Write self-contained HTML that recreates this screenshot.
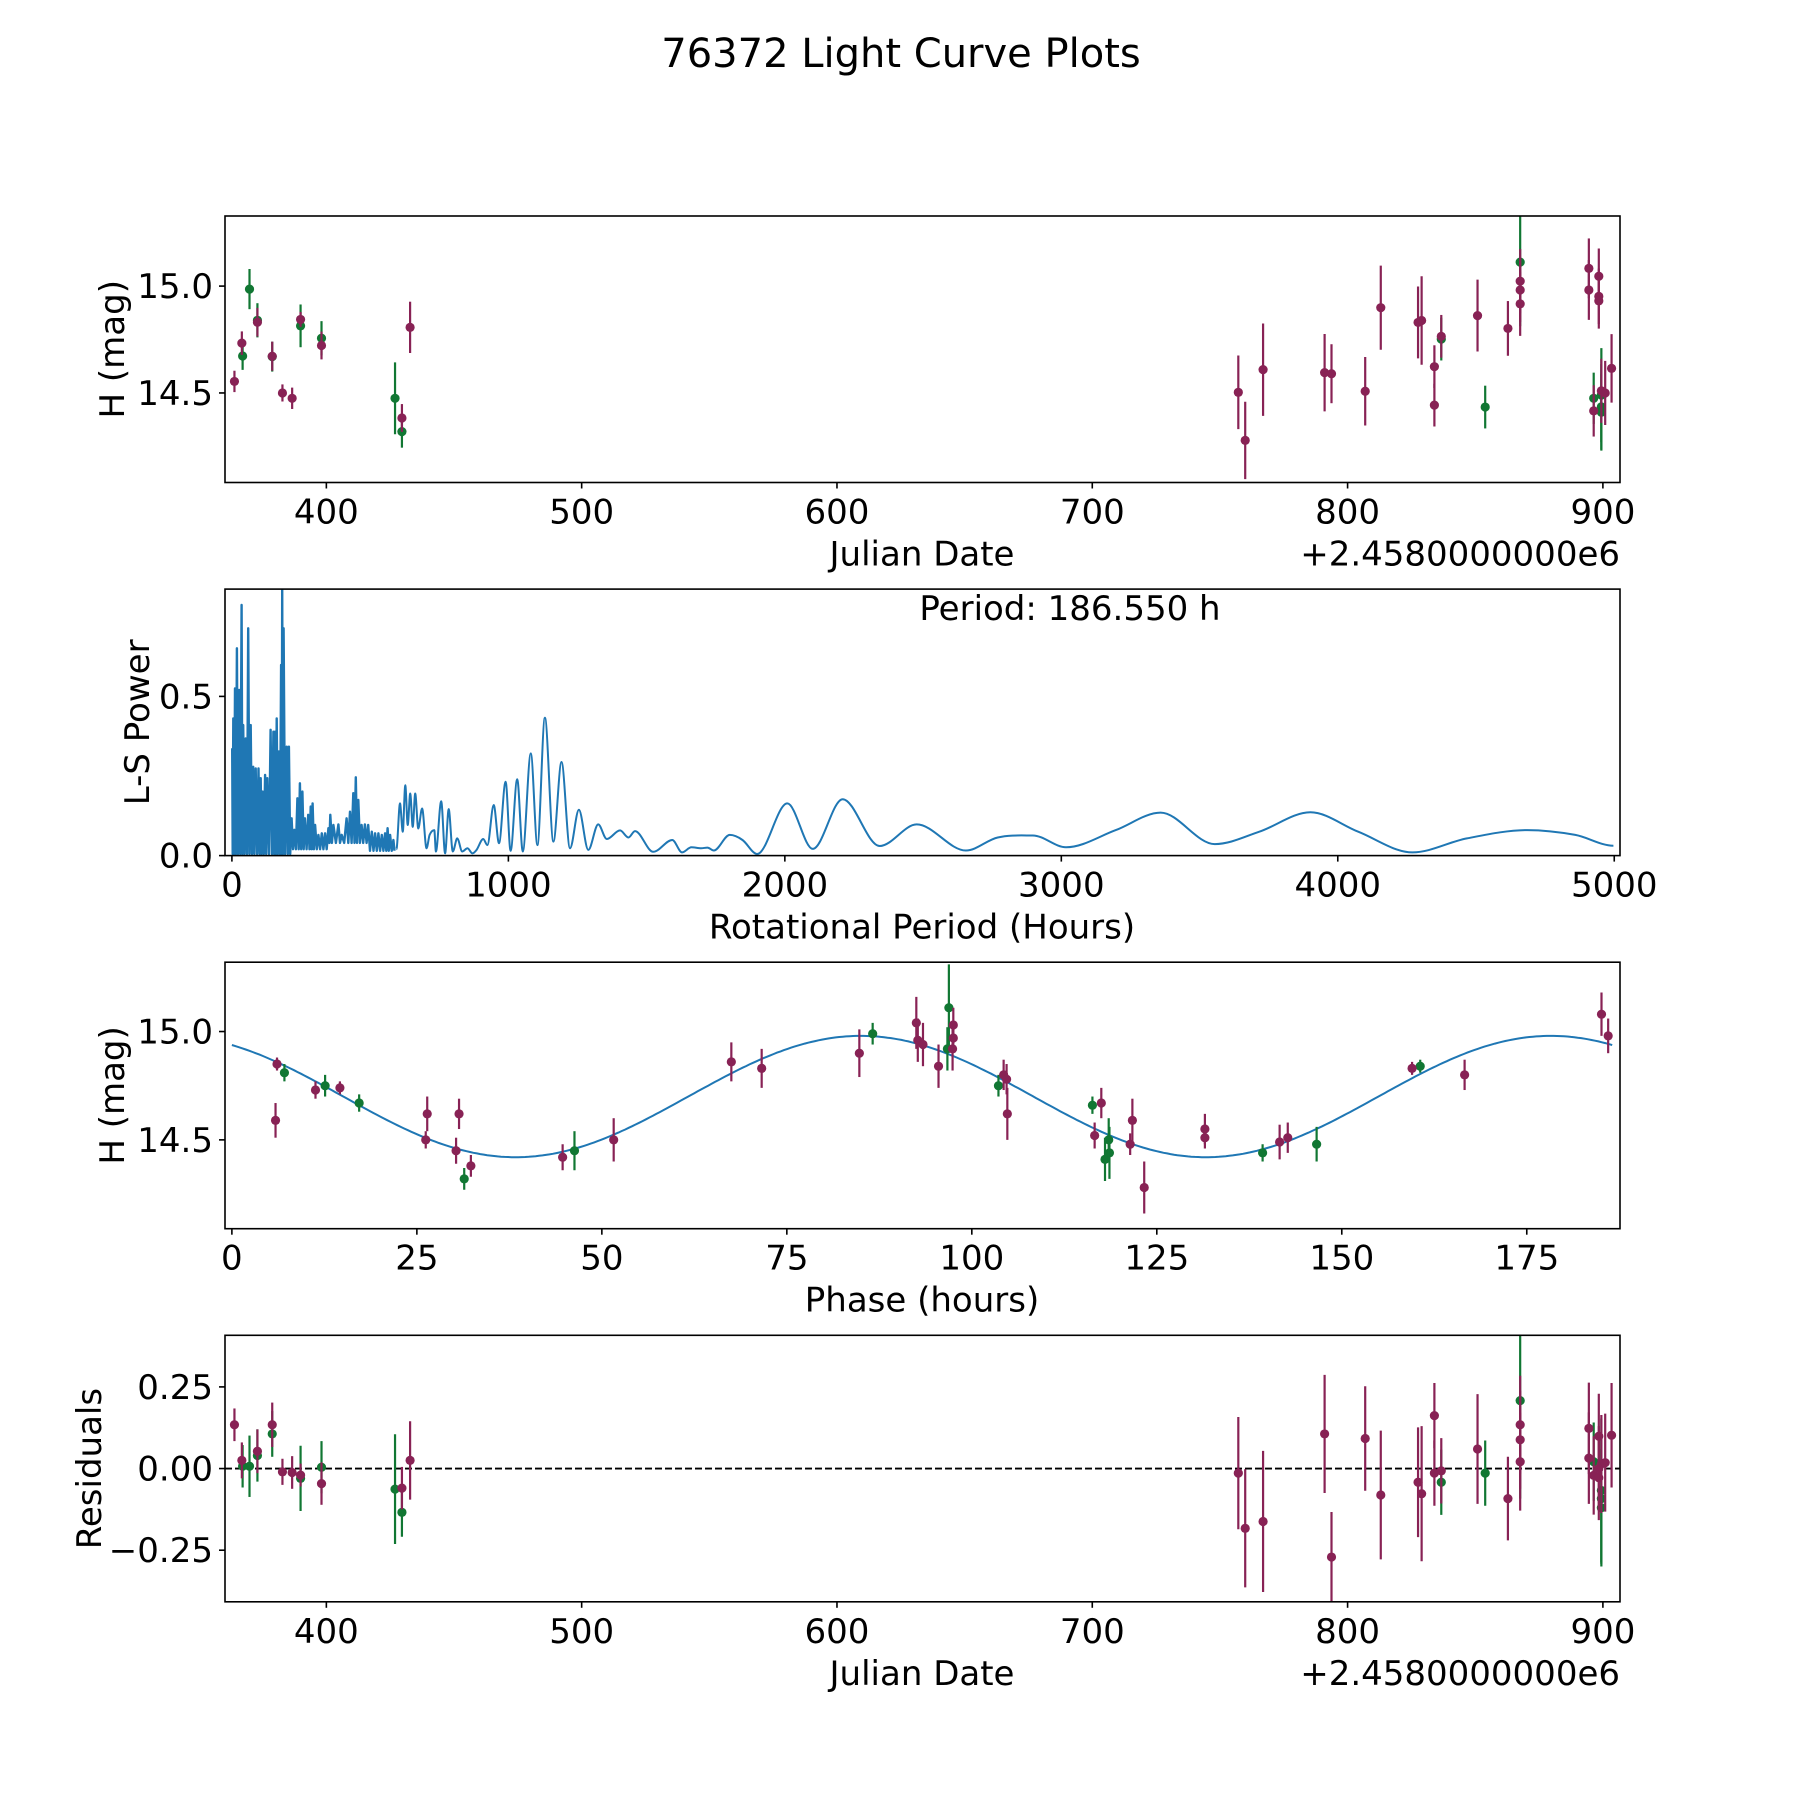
<!DOCTYPE html>
<html><head><meta charset="utf-8"><title>76372 Light Curve Plots</title>
<style>
html,body{margin:0;padding:0;background:#fff;}
svg{display:block;font-family:"DejaVu Sans","Liberation Sans",sans-serif;}
</style></head>
<body>
<svg id="fig" width="1800" height="1800" viewBox="0 0 1800 1800" xmlns="http://www.w3.org/2000/svg">
<rect x="0" y="0" width="1800" height="1800" fill="#fff"/>
<text x="901" y="67" font-size="40" text-anchor="middle">76372 Light Curve Plots</text>
</svg>
<script>
// ---------- Panel 1 / 4 data (Julian date offset, magnitude, error, residual) ----------
const jdPurple = [364.0,366.9,373.0,378.8,382.8,386.6,389.9,398.1,429.6,432.8,757.2,759.9,766.9,791.0,793.7,806.9,813.0,827.6,829.0,834.0,834.0,836.7,850.9,862.8,867.6,867.6,867.6,894.5,894.5,896.4,898.4,898.4,898.4,899.4,900.9,903.4];
const magPurple = [14.554,14.733,14.831,14.672,14.50,14.475,14.844,14.722,14.383,14.807,14.503,14.278,14.609,14.595,14.590,14.508,14.899,14.83,14.839,14.623,14.443,14.765,14.862,14.802,15.023,14.982,14.917,15.083,14.982,14.416,15.046,14.952,14.931,14.51,14.5,14.615];
const errPurple = [0.05,0.055,0.067,0.068,0.04,0.05,0.035,0.065,0.065,0.12,0.172,0.181,0.216,0.181,0.138,0.16,0.197,0.168,0.207,0.1,0.1,0.1,0.168,0.128,0.15,0.15,0.15,0.14,0.14,0.12,0.13,0.13,0.13,0.15,0.15,0.16];
const resPurple = [0.134,0.025,0.053,0.134,-0.01,-0.012,-0.02,-0.046,-0.06,0.025,-0.014,-0.183,-0.162,0.106,-0.271,0.092,-0.081,-0.042,-0.077,0.162,-0.014,-0.007,0.06,-0.092,0.134,0.088,0.021,0.123,0.032,-0.021,0.099,-0.028,0.0,0.014,0.018,0.102];
const jdGreen = [367.2,369.9,373.0,378.8,389.9,398.1,426.9,429.6,836.7,853.9,867.6,896.4,899.4,899.4,899.4];
const magGreen = [14.673,14.986,14.84,14.67,14.814,14.756,14.475,14.319,14.752,14.434,15.112,14.475,14.49,14.435,14.41];
const errGreen = [0.065,0.094,0.08,0.07,0.1,0.08,0.168,0.075,0.1,0.1,0.3,0.12,0.22,0.2,0.18];
const resGreen = [0.007,0.007,0.04,0.106,-0.03,0.004,-0.063,-0.134,-0.042,-0.014,0.208,0.021,-0.067,-0.092,-0.12];
const jdTicks = [400,500,600,700,800,900];
const magTicks = [14.5,15.0];
const resTicks = [-0.25,0,0.25];
const resTickLabels = ["\u22120.25","0.00","0.25"];

// ---------- Panel 2: periodogram ----------
const noisyPeriods = [1,5,11,18,26,35,41,50,59,68,77,86,96,104,111,120,128,140,150,156,162,170,178,182,187,198,206,216,226,237,246,255,264,276,285,292,301,313,325,337,349,356,367,385,397,415,427,439,448,457,469,481,493,506,518,530,542,554,563,572,584];
const noisyPeaks = [0.337,0.431,0.525,0.651,0.52,0.787,0.41,0.368,0.714,0.41,0.279,0.274,0.274,0.243,0.201,0.253,0.243,0.395,0.389,0.389,0.431,0.327,0.599,0.834,0.714,0.342,0.342,0.117,0.081,0.18,0.227,0.201,0.117,0.128,0.154,0.164,0.096,0.065,0.07,0.07,0.086,0.128,0.096,0.098,0.065,0.117,0.138,0.196,0.246,0.175,0.096,0.098,0.096,0.075,0.07,0.07,0.065,0.07,0.086,0.065,0.049];
const noisyTroughs = [0.005,0.005,0.005,0.005,0.005,0.005,0.005,0.005,0.005,0.005,0.005,0.005,0.005,0.005,0.005,0.005,0.005,0.005,0.005,0.005,0.005,0.005,0.005,0.005,0.005,0.005,0.005,0.02,0.02,0.02,0.02,0.02,0.02,0.02,0.02,0.02,0.02,0.02,0.02,0.02,0.04,0.04,0.04,0.04,0.04,0.04,0.04,0.04,0.04,0.04,0.04,0.04,0.015,0.015,0.015,0.015,0.015,0.015,0.015,0.015,0.015];
const smoothPeriods = [595,608,618,627,636,645,654,663,674,688,704,715,732,738,757,771,784,799,815,833,852,870,885,909,924,947,966,990,1008,1032,1052,1081,1105,1132,1163,1192,1223,1255,1289,1325,1356,1404,1434,1458,1524,1593,1628,1662,1697,1720,1743,1801,1847,1900,2009,2101,2209,2343,2477,2655,2770,2897,3017,3197,3359,3555,3716,3901,4074,4270,4467,4686,4859,4997];
const smoothPowers = [0.02,0.164,0.075,0.221,0.096,0.195,0.09,0.195,0.085,0.148,0.023,0.065,0.08,0.013,0.171,0.007,0.146,0.013,0.054,0.013,0.023,0.007,0.018,0.052,0.033,0.159,0.039,0.232,0.015,0.240,0.013,0.321,0.033,0.433,0.044,0.294,0.023,0.144,0.018,0.098,0.052,0.079,0.057,0.077,0.012,0.049,0.01,0.026,0.023,0.025,0.016,0.065,0.049,0.005,0.164,0.021,0.177,0.03,0.098,0.016,0.057,0.063,0.026,0.08,0.135,0.036,0.075,0.136,0.075,0.01,0.054,0.08,0.065,0.031];
const periodTicks = [0,1000,2000,3000,4000,5000];
const powerTicks = [0.0,0.5];
const bestPeriodLabel = "Period: 186.550 h";

// ---------- Panel 3: phased light curve ----------
const phasePurple = [6.1,5.9,11.3,14.6,26.4,26.2,30.3,30.7,32.3,44.7,51.6,67.5,71.6,84.8,92.5,92.7,93.4,95.5,97.5,97.5,97.4,104.3,104.7,104.8,116.6,117.5,121.4,121.7,123.3,131.5,131.5,141.6,142.7,159.5,166.6,185.1,186.0];
const phaseMagPurple = [14.85,14.59,14.73,14.74,14.62,14.5,14.45,14.62,14.38,14.42,14.5,14.86,14.83,14.9,15.04,14.96,14.94,14.84,15.03,14.97,14.92,14.8,14.78,14.62,14.52,14.67,14.48,14.59,14.28,14.55,14.51,14.49,14.51,14.83,14.8,15.08,14.98];
const phaseErrPurple = [0.03,0.08,0.04,0.03,0.08,0.04,0.06,0.07,0.05,0.06,0.1,0.09,0.09,0.11,0.12,0.1,0.1,0.1,0.08,0.06,0.1,0.07,0.07,0.12,0.06,0.07,0.05,0.1,0.12,0.07,0.05,0.08,0.07,0.03,0.07,0.1,0.08];
const phaseGreen = [7.1,12.6,17.2,31.4,46.3,86.6,96.9,96.7,103.6,116.3,118.0,118.6,118.5,139.3,146.6,160.6];
const phaseMagGreen = [14.81,14.75,14.67,14.32,14.45,14.99,15.11,14.92,14.75,14.66,14.41,14.44,14.5,14.44,14.48,14.84];
const phaseErrGreen = [0.04,0.05,0.04,0.05,0.09,0.05,0.2,0.1,0.05,0.04,0.1,0.12,0.1,0.04,0.08,0.03];
const phaseTicks = [0,25,50,75,100,125,150,175];
const modelMean = [14.70];
const modelAmp = [0.28];
const modelPeakPhase = [85];
const modelPeriod = [93.27];
const foldPeriod = [186.55];

// ---------- drawing ----------
const NS = "http://www.w3.org/2000/svg";
const svg = document.getElementById("fig");
const PURPLE = "#882255", GREEN = "#117733", BLUE = "#1f77b4";
const L = 225, R = 1620, H = 266.5;
const TOPS = [216, 589.1, 962.2, 1335.3];
const FS = 34;
function mk(tag, attrs, parent) {
  const e = document.createElementNS(NS, tag);
  for (const k in attrs) e.setAttribute(k, attrs[k]);
  (parent || svg).appendChild(e);
  return e;
}
function scale(d0, d1, r0, r1) { return v => r0 + (v - d0) / (d1 - d0) * (r1 - r0); }

function axesFrame(top, name) {
  const g = mk("g", {});
  
  
  return g;
}
function frameRect(g, top) {
  const r = mk("rect", {x: L, y: top, width: R - L, height: H, fill: "none", stroke: "#000", "stroke-width": 1.6}, g);
  
  
}
function xTicks(g, top, ticks, labels, sx) {
  ticks.forEach((t, i) => {
    const x = sx(t);
    const ln = mk("line", {x1: x, x2: x, y1: top + H, y2: top + H + 6, stroke: "#000", "stroke-width": 1.6}, g);
    
    
    const tx = mk("text", {x: x, y: top + H + 41, "font-size": FS, "text-anchor": "middle"}, g);
    tx.textContent = labels[i];
    
    
  });
}
function yTicks(g, ticks, labels, sy) {
  ticks.forEach((t, i) => {
    const y = sy(t);
    const ln = mk("line", {x1: L - 6, x2: L, y1: y, y2: y, stroke: "#000", "stroke-width": 1.6}, g);
    
    
    const tx = mk("text", {x: L - 12, y: y + 12, "font-size": FS, "text-anchor": "end"}, g);
    tx.textContent = labels[i];
    
    
  });
}
function label(g, text, x, y, rot, name) {
  const t = mk("text", {x: x, y: y, "font-size": FS, "text-anchor": "middle"}, g);
  if (rot) t.setAttribute("transform", "rotate(-90 " + x + " " + y + ")");
  t.textContent = text;
  
  
}
function errorPoints(g, xs, ys, es, color, sx, sy, name) {
  xs.forEach((xv, i) => {
    const x = sx(xv);
    const ln = mk("line", {x1: x, x2: x, y1: sy(ys[i] - es[i]), y2: sy(ys[i] + es[i]), stroke: color, "stroke-width": 2.2}, g);
    
    
    const c = mk("circle", {cx: x, cy: sy(ys[i]), r: 4.6, fill: color}, g);
    
    
  });
}
function clip(id, top) {
  const defs = mk("defs", {});
  const cp = mk("clipPath", {id: id}, defs);
  mk("rect", {x: L, y: top, width: R - L, height: H}, cp);
}

// Panel 1
(function () {
  const top = TOPS[0];
  const g = axesFrame(top, 'light-curve-panel');
  clip("c1", top);
  const sx = scale(360.3, 906.7, L, R), sy = scale(14.081, 15.328, top + H, top);
  const pg = mk("g", {"clip-path": "url(#c1)"}, g);
  errorPoints(pg, jdGreen, magGreen, errGreen, GREEN, sx, sy, 'green-obs');
  errorPoints(pg, jdPurple, magPurple, errPurple, PURPLE, sx, sy, 'purple-obs');
  frameRect(g, top);
  xTicks(g, top, jdTicks, jdTicks.map(String), sx);
  yTicks(g, magTicks, magTicks.map(v => v.toFixed(1)), sy);
  label(g, "Julian Date", 922, top + H + 83, false, 'x-axis-title');
  const off = mk("text", {x: R, y: top + H + 83, "font-size": FS, "text-anchor": "end"}, g);
  off.textContent = "+2.4580000000e6";
  
  
  label(g, "H (mag)", 124, top + H / 2, true, 'y-axis-title');
})();

// Panel 2
(function () {
  const top = TOPS[1];
  const g = axesFrame(top, 'periodogram-panel');
  clip("c2", top);
  const sx = scale(-25, 5020.8, L, R), sy = scale(0, 0.837, top + H, top);
  const pg = mk("g", {"clip-path": "url(#c2)"}, g);
  let d = "";
  noisyPeriods.forEach((p, i) => {
    d += (i ? "L" : "M") + sx(p).toFixed(1) + "," + sy(noisyPeaks[i]).toFixed(1);
    const pm = i < noisyPeriods.length - 1 ? (p + noisyPeriods[i + 1]) / 2 : p + 4;
    d += "L" + sx(pm).toFixed(1) + "," + sy(noisyTroughs[i]).toFixed(1);
  });
  const np = mk("path", {d: d, fill: "none", stroke: BLUE, "stroke-width": 2.4, "stroke-linejoin": "round"}, pg);
  
  
  const P = smoothPeriods.map((p, i) => [sx(p), sy(smoothPowers[i])]);
  const n = P.length;
  const slope = P.map((pt, i) => {
    if (i === 0 || i === n - 1) return 0;
    const a = P[i - 1], b = P[i + 1];
    const d1 = pt[1] - a[1], d2 = b[1] - pt[1];
    if (d1 * d2 <= 0) return 0;
    return (b[1] - a[1]) / (b[0] - a[0]);
  });
  let s = "M" + P[0][0].toFixed(1) + "," + P[0][1].toFixed(1);
  for (let i = 0; i < n - 1; i++) {
    const p1 = P[i], p2 = P[i + 1];
    const dx = (p2[0] - p1[0]) / 3;
    const c1x = p1[0] + dx, c1y = p1[1] + slope[i] * dx;
    const c2x = p2[0] - dx, c2y = p2[1] - slope[i + 1] * dx;
    s += "C" + c1x.toFixed(1) + "," + c1y.toFixed(1) + " " + c2x.toFixed(1) + "," + c2y.toFixed(1) + " " + p2[0].toFixed(1) + "," + p2[1].toFixed(1);
  }
  const sp = mk("path", {d: s, fill: "none", stroke: BLUE, "stroke-width": 2}, pg);
  
  
  frameRect(g, top);
  xTicks(g, top, periodTicks, periodTicks.map(String), sx);
  yTicks(g, powerTicks, powerTicks.map(v => v.toFixed(1)), sy);
  label(g, "Rotational Period (Hours)", 922, top + H + 83, false, 'x-axis-title');
  label(g, "L-S Power", 149, top + H / 2, true, 'y-axis-title');
  const pt = mk("text", {x: 1070, y: top + 31, "font-size": FS, "text-anchor": "middle"}, g);
  pt.textContent = bestPeriodLabel;
  
  
})();

// Panel 3
(function () {
  const top = TOPS[2];
  const g = axesFrame(top, 'phased-curve-panel');
  clip("c3", top);
  const sx = scale(-0.93, 187.6, L, R), sy = scale(14.09, 15.32, top + H, top);
  const pg = mk("g", {"clip-path": "url(#c3)"}, g);
  let d = "";
  const n = 400;
  for (let k = 0; k <= n; k++) {
    const ph = foldPeriod[0] * k / n;
    const m = modelMean[0] + modelAmp[0] * Math.cos(2 * Math.PI * (ph - modelPeakPhase[0]) / modelPeriod[0]);
    d += (k ? "L" : "M") + sx(ph).toFixed(1) + "," + sy(m).toFixed(1);
  }
  const ml = mk("path", {d: d, fill: "none", stroke: BLUE, "stroke-width": 2}, pg);
  
  
  errorPoints(pg, phaseGreen, phaseMagGreen, phaseErrGreen, GREEN, sx, sy, 'green-phased');
  errorPoints(pg, phasePurple, phaseMagPurple, phaseErrPurple, PURPLE, sx, sy, 'purple-phased');
  frameRect(g, top);
  xTicks(g, top, phaseTicks, phaseTicks.map(String), sx);
  yTicks(g, magTicks, magTicks.map(v => v.toFixed(1)), sy);
  label(g, "Phase (hours)", 922, top + H + 83, false, 'x-axis-title');
  label(g, "H (mag)", 124, top + H / 2, true, 'y-axis-title');
})();

// Panel 4
(function () {
  const top = TOPS[3];
  const g = axesFrame(top, 'residuals-panel');
  clip("c4", top);
  const sx = scale(360.3, 906.7, L, R), sy = scale(-0.408, 0.408, top + H, top);
  const pg = mk("g", {"clip-path": "url(#c4)"}, g);
  const zl = mk("line", {x1: L, x2: R, y1: sy(0), y2: sy(0), stroke: "#000", "stroke-width": 1.8, "stroke-dasharray": "7,3"}, pg);
  
  
  errorPoints(pg, jdGreen, resGreen, errGreen, GREEN, sx, sy, 'green-residual');
  errorPoints(pg, jdPurple, resPurple, errPurple, PURPLE, sx, sy, 'purple-residual');
  frameRect(g, top);
  xTicks(g, top, jdTicks, jdTicks.map(String), sx);
  yTicks(g, resTicks, resTickLabels, sy);
  label(g, "Julian Date", 922, top + H + 83, false, 'x-axis-title');
  const off = mk("text", {x: R, y: top + H + 83, "font-size": FS, "text-anchor": "end"}, g);
  off.textContent = "+2.4580000000e6";
  
  
  label(g, "Residuals", 101, top + H / 2, true, 'y-axis-title');
})();
</script>
</body></html>
